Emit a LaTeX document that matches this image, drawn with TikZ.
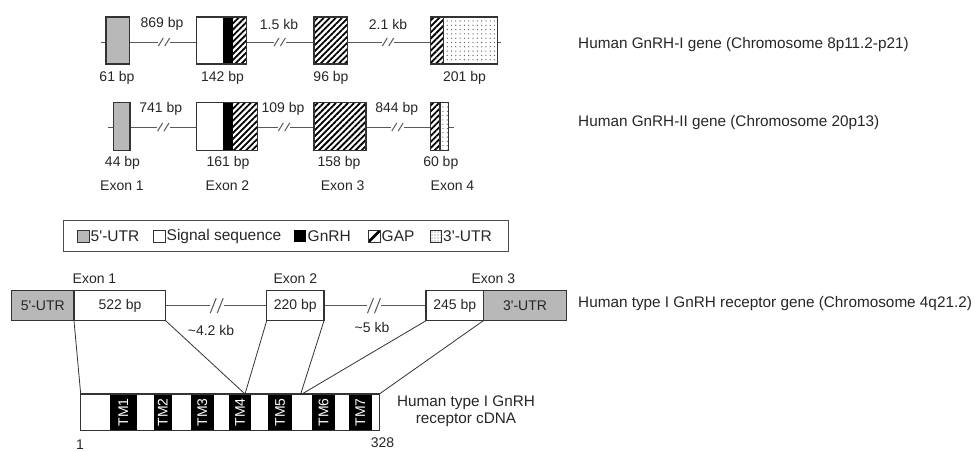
\documentclass[tikz,border=0pt]{standalone}
\usepackage{fontspec}
\newfontfamily\lsans{Liberation Sans}
\usetikzlibrary{patterns.meta}
\newcommand\fsm{\fontsize{14}{16}\selectfont}
\newcommand\flg{\fontsize{15.5}{17}\selectfont}
\newcommand\frt{\fontsize{15.3}{17}\selectfont}
\newcommand\ftm{\fontsize{14}{15}\selectfont}
% gap mark: x y halfheight dx halfsep
\newcommand\gapmark[5]{%
  \fill[white] ({#1-#5-#4-0.5},{#2-1.5}) rectangle ({#1+#5+#4+0.5},{#2+1.5});
  \draw[intron] ({#1-#5-#4},{#2+#3}) -- ({#1-#5+#4},{#2-#3});
  \draw[intron] ({#1+#5-#4},{#2+#3}) -- ({#1+#5+#4},{#2-#3});
}
\begin{document}
\begin{tikzpicture}[x=1pt,y=-1pt,font=\lsans\fsm,text=black!85,
  exon/.style={draw=black!80,line width=1.1pt},
  intron/.style={draw=black!65,line width=1pt},
  hatchfill/.style={pattern={Lines[angle=45,distance=4.3pt,line width=1.8pt]},pattern color=black},
  dotfill/.style={pattern={Dots[distance=4.3pt,radius=0.65pt]},pattern color=black!65},
  utrfill/.style={fill=black!28},
  lbl/.style={inner sep=0pt,anchor=center},
  conn/.style={draw=black!80,line width=0.8pt}]
\useasboundingbox (0,0) rectangle (975,451);

% ---------------- Human GnRH-I gene ----------------
\draw[intron] (101,42) -- (501,42);
\fill[utrfill] (106,17) rectangle (129.3,64);
\draw[exon] (106,17) rectangle (129.3,64);
\fill[white] (196.7,17) rectangle (246.7,64);
\fill[black] (222.7,17) rectangle (232.7,64);
\fill[hatchfill] (232.7,17) rectangle (246.7,64);
\draw[exon] (196.7,17) rectangle (246.7,64);
\fill[white] (314,17) rectangle (347.3,64);
\fill[hatchfill] (314,17) rectangle (347.3,64);
\draw[exon] (314,17) rectangle (347.3,64);
\fill[white] (430.7,17) rectangle (497.3,64);
\fill[hatchfill] (430.7,17) rectangle (443.3,64);
\fill[dotfill] (443.3,17) rectangle (497.3,64);
\draw[exon] (443.3,17) -- (443.3,64);
\draw[exon] (430.7,17) rectangle (497.3,64);
\gapmark{164}{42}{4}{2.5}{3.2}
\gapmark{279.7}{42}{4}{2.5}{3.2}
\gapmark{388}{42}{4}{2.5}{3.2}
\node[lbl] (g1a) at (162,24) {869 bp};
\node[lbl] (g1b) at (279,24) {1.5 kb};
\node[lbl] (g1c) at (388,24) {2.1 kb};
\node[lbl] (g1e1) at (117,78) {61 bp};
\node[lbl] (g1e2) at (222.5,78) {142 bp};
\node[lbl] (g1e3) at (331,78) {96 bp};
\node[lbl] (g1e4) at (464.5,78) {201 bp};
\node[lbl,anchor=west,font=\lsans\frt] (g1t) at (578,45) {Human GnRH-I gene (Chromosome 8p11.2-p21)};

% ---------------- Human GnRH-II gene ----------------
\draw[intron] (108,127) -- (454,127);
\fill[utrfill] (113.3,102.7) rectangle (130,150.7);
\draw[exon] (113.3,102.7) rectangle (130,150.7);
\fill[white] (196.7,102.7) rectangle (257.7,150.7);
\fill[black] (222.7,102.7) rectangle (232.7,150.7);
\fill[hatchfill] (232.7,102.7) rectangle (257.7,150.7);
\draw[exon] (196.7,102.7) rectangle (257.7,150.7);
\fill[white] (314,102.7) rectangle (366,150.7);
\fill[hatchfill] (314,102.7) rectangle (366,150.7);
\draw[exon] (314,102.7) rectangle (366,150.7);
\fill[white] (430.7,102.7) rectangle (448.3,150.7);
\fill[hatchfill] (430.7,102.7) rectangle (440,150.7);
\fill[dotfill] (440,102.7) rectangle (448.3,150.7);
\draw[exon] (440,102.7) -- (440,150.7);
\draw[exon] (430.7,102.7) rectangle (448.3,150.7);
\gapmark{163.3}{127}{4}{2.5}{3.2}
\gapmark{284}{127}{4}{2.5}{3.2}
\gapmark{397.5}{127}{4}{2.5}{3.2}
\node[lbl] (g2a) at (160.8,108.5) {741 bp};
\node[lbl] (g2b) at (283,108.5) {109 bp};
\node[lbl] (g2c) at (396.7,108.5) {844 bp};
\node[lbl] (g2e1) at (122.5,163) {44 bp};
\node[lbl] (g2e2) at (228,163) {161 bp};
\node[lbl] (g2e3) at (339,163) {158 bp};
\node[lbl] (g2e4) at (440.8,163) {60 bp};
\node[lbl,anchor=west,font=\lsans\frt] (g2t) at (578,123) {Human GnRH-II gene (Chromosome 20p13)};

\node[lbl] (ex1) at (122,186) {Exon 1};
\node[lbl] (ex2) at (227.5,186) {Exon 2};
\node[lbl] (ex3) at (342.7,186) {Exon 3};
\node[lbl] (ex4) at (452.5,186) {Exon 4};

% ---------------- Legend ----------------
\draw[black!70,line width=0.8pt] (63.3,220) rectangle (508.3,251);
\fill[utrfill] (77,230) rectangle (89,242);
\draw[black!80,line width=0.8pt] (77,230) rectangle (89,242);
\node[lbl,anchor=west,font=\lsans\flg] (l1) at (90.5,236) {5'-UTR};
\draw[black!80,line width=0.8pt] (153,230) rectangle (165,242);
\node[lbl,anchor=west,font=\lsans\flg] (l2) at (166.5,236) {Signal sequence};
\fill[black] (294,230) rectangle (306,242);
\node[lbl,anchor=west,font=\lsans\flg] (l3) at (307.5,236) {GnRH};
\begin{scope}
\clip (368.5,230) rectangle (380.5,242);
\draw[black,line width=2.6pt] (368.5,242) -- (380.5,230);
\end{scope}
\draw[black!80,line width=0.8pt] (368.5,230) rectangle (380.5,242);
\node[lbl,anchor=west,font=\lsans\flg] (l4) at (381.5,236) {GAP};
\fill[pattern={Dots[distance=3pt,radius=0.6pt]},pattern color=black!65] (430.7,230) rectangle (441.7,242);
\draw[black!80,line width=0.8pt] (430.7,230) rectangle (441.7,242);
\node[lbl,anchor=west,font=\lsans\flg] (l5) at (443,236) {3'-UTR};

% ---------------- Receptor gene ----------------
\draw[intron] (165.7,305.7) -- (266.7,305.7);
\draw[intron] (324,305.7) -- (426,305.7);
\gapmark{216.7}{305.7}{7.5}{3}{3.5}
\gapmark{374}{305.7}{7.5}{3}{3.5}
\fill[utrfill] (11.7,290.7) rectangle (74,320.7);
\draw[exon] (11.7,290.7) rectangle (74,320.7);
\draw[exon] (74,290.7) rectangle (165.7,320.7);
\draw[exon] (266.7,290.7) rectangle (324,320.7);
\draw[exon] (426,290.7) rectangle (483.3,320.7);
\fill[utrfill] (483.3,290.7) rectangle (566.7,320.7);
\draw[exon] (483.3,290.7) rectangle (566.7,320.7);
\node[lbl] (r5) at (42.8,305.7) {5'-UTR};
\node[lbl] (r1) at (120,305.7) {522 bp};
\node[lbl] (r2) at (295.3,305.7) {220 bp};
\node[lbl] (r3) at (454.7,305.7) {245 bp};
\node[lbl] (r3u) at (525,305.7) {3'-UTR};
\node[lbl] (rx1) at (94.5,278.3) {Exon 1};
\node[lbl] (rx2) at (295.3,278.3) {Exon 2};
\node[lbl] (rx3) at (493.3,278.3) {Exon 3};
\node[lbl] (ri1) at (211,330) {\textasciitilde 4.2 kb};
\node[lbl] (ri2) at (372,327) {\textasciitilde 5 kb};
\node[lbl,anchor=west,font=\lsans\frt] (rt) at (578,303.5) {Human type I GnRH receptor gene (Chromosome 4q21.2)};

% ---------------- cDNA ----------------
\fill[white] (80.7,394) rectangle (379.3,430.7);
\foreach \a/\b/\t in {110/136.7/TM1,154/171.7/TM2,190.7/214/TM3,229.3/250.7/TM4,268.3/291.7/TM5,312.3/335/TM6,349/371.7/TM7}{
  \fill[black] (\a,394) rectangle (\b,430.7);
  \node[rotate=90,text=white,font=\lsans\ftm,inner sep=0pt] at ({(\a+\b)/2},412.3) {\t};
}
\draw[exon] (80.7,394) rectangle (379.3,430.7);
\node[lbl] (n1) at (80,445) {1};
\node[lbl] (n328) at (382.5,443) {328};
\node[lbl,font=\lsans\frt,align=center] (ct) at (466,411) {Human type I GnRH\\receptor cDNA};

% connectors
\coordinate (a1) at (74,320.7);   \coordinate (b1) at (80.7,394);
\coordinate (a2) at (165.7,320.7); \coordinate (b2) at (245,394);
\coordinate (a3) at (266.7,320.7);
\coordinate (a4) at (324,320.7);   \coordinate (b4) at (300.7,394);
\coordinate (a5) at (426,320.7);   \coordinate (b5) at (302,394);
\coordinate (a6) at (483.3,320.7); \coordinate (b6) at (379.3,394);
\draw[conn] (a1) -- (b1);
\draw[conn] (a2) -- (b2);
\draw[conn] (a3) -- (b2);
\draw[conn] (a4) -- (b4);
\draw[conn] (a5) -- (b5);
\draw[conn] (a6) -- (b6);
\end{tikzpicture}
\end{document}
